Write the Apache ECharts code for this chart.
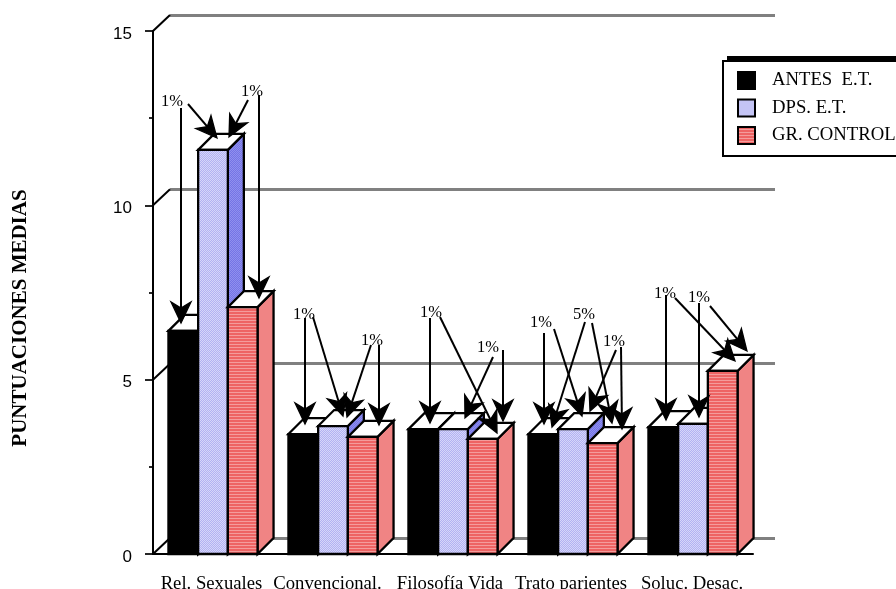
<!DOCTYPE html>
<html>
<head>
<meta charset="utf-8">
<style>html,body{margin:0;padding:0;background:#fff}#main{width:896px;height:589px}</style>
<script src="https://cdn.jsdelivr.net/npm/echarts@6/dist/echarts.min.js"></script>
</head>
<body>
<div id="main"></div>
<script>
var categories = ['Rel. Sexuales', 'Convencional.', 'Filosofía Vida', 'Trato parientes', 'Soluc. Desac.'];
var seriesNames = ['ANTES  E.T.', 'DPS. E.T.', 'GR. CONTROL'];
var antes = [6.4, 3.44, 3.58, 3.44, 3.64];
var dps = [11.59, 3.67, 3.58, 3.58, 3.73];
var control = [7.08, 3.36, 3.30, 3.18, 5.25];
var majorTicks = [0, 5, 10, 15];

var serif = '"Liberation Serif", serif';

// the labels sit a little left of their ticks in the original
var labelNudge = [3, 11, 6, 4, 2];

// significance notes: text with its centre, arrows as from/to in page pixels
var notes = [
  ['1%', 172, 102], ['1%', 252, 92], ['1%', 304, 315], ['1%', 372, 341],
  ['1%', 431, 313], ['1%', 488, 348], ['1%', 541, 323], ['5%', 584, 315],
  ['1%', 614, 342], ['1%', 665, 294], ['1%', 699, 298]
];
var arrows = [
  [181, 108, 181, 323], [188, 104, 217, 138], [248, 100, 229, 137], [259, 95, 259, 298],
  [305, 318, 305, 424], [313, 317, 343, 416], [371, 345, 347, 417], [379, 345, 379, 425],
  [430, 318, 430, 423], [440, 317, 497, 433], [493, 357, 465, 418], [503, 350, 503, 421],
  [544, 333, 544, 424], [554, 329, 582, 416], [585, 322, 552, 427], [592, 323, 612, 423],
  [616, 350, 590, 411], [621, 347, 622, 429],
  [666, 295, 666, 420], [675, 298, 735, 361], [699, 303, 699, 417], [710, 306, 747, 351]
];

function pattern(w, h, paint) {
  var c = document.createElement('canvas');
  c.width = w;
  c.height = h;
  paint(c.getContext('2d'));
  return { image: c, repeat: 'repeat' };
}
function checker(a, b) {
  return pattern(2, 2, function (g) {
    g.fillStyle = a; g.fillRect(0, 0, 2, 2);
    g.fillStyle = b; g.fillRect(0, 0, 1, 1); g.fillRect(1, 1, 1, 1);
  });
}
var blueFront = checker('#b2b2f2', '#d6d6f9');
var blueSide = checker('#7474e6', '#9090ee');
var redFront = pattern(1, 3, function (g) {
  g.fillStyle = '#ee6464'; g.fillRect(0, 0, 1, 3);
  g.fillStyle = '#f49c9c'; g.fillRect(0, 2, 1, 1);
});

var depthX = 16, depthY = 16, barRatio = 0.2475;

function bar3d(slot, front, side) {
  return function (params, api) {
    var top = api.coord([api.value(0), api.value(1)]);
    var base = api.coord([api.value(0), 0]);
    var w = api.size([1, 0])[0] * barRatio;
    var x0 = top[0] + (slot - 1.5) * w, x1 = x0 + w;
    var y = top[1], yb = base[1];
    var line = { stroke: '#000', lineWidth: 2.3, lineJoin: 'miter' };
    function face(points, fill) {
      return { type: 'polygon', shape: { points: points }, style: Object.assign({ fill: fill }, line) };
    }
    return {
      type: 'group',
      children: [
        face([[x1, y], [x1 + depthX, y - depthY], [x1 + depthX, yb - depthY], [x1, yb]], side),
        face([[x0, y], [x1, y], [x1 + depthX, y - depthY], [x0 + depthX, y - depthY]], '#fff'),
        face([[x0, y], [x1, y], [x1, yb], [x0, yb]], front)
      ]
    };
  };
}

function barSeries(name, values, slot, front, side) {
  return {
    name: name,
    type: 'custom',
    xAxisIndex: 0,
    yAxisIndex: 0,
    encode: { x: 0, y: 1 },
    itemStyle: { color: front },
    clip: false,
    renderItem: bar3d(slot, front, side),
    data: values.map(function (v, i) { return [i, v]; })
  };
}

function arrowShape(a) {
  var dx = a[2] - a[0], dy = a[3] - a[1];
  var len = Math.sqrt(dx * dx + dy * dy), ux = dx / len, uy = dy / len;
  var px = -uy, py = ux;
  var tip = [a[2], a[3]];
  function at(back, off) { return [tip[0] - ux * back + px * off, tip[1] - uy * back + py * off]; }
  return [
    { type: 'polyline', z: 50, shape: { points: [[a[0], a[1]], at(12, 0)] }, style: { stroke: '#000', lineWidth: 2, fill: null } },
    { type: 'polygon', z: 50, shape: { points: [tip, at(21, 10), at(15, 0), at(21, -10)] }, style: { fill: '#000', stroke: '#000', lineWidth: 1.3 } }
  ];
}

var graphics = [
  { type: 'rect', z: 40, shape: { x: 727, y: 56, width: 170, height: 4 }, style: { fill: '#000' } },
  { type: 'text', z: 40, x: 21, y: 318, rotation: Math.PI / 2,
    style: { text: 'PUNTUACIONES MEDIAS', font: 'bold 21px ' + serif, fill: '#000', align: 'center', verticalAlign: 'middle' } }
];
arrows.forEach(function (a) { graphics = graphics.concat(arrowShape(a)); });
notes.forEach(function (n) {
  graphics.push({ type: 'text', z: 51, x: n[1], y: n[2],
    style: { text: n[0], font: '16.5px ' + serif, fill: '#000', align: 'center', verticalAlign: 'middle' } });
});

var option = {
  backgroundColor: '#ffffff',
  animation: false,
  textStyle: { fontFamily: serif },
  grid: [
    { left: 153, top: 31, width: 600, height: 523, outerBoundsMode: 'none' },
    { left: 170, top: 15, width: 605, height: 523, outerBoundsMode: 'none' }
  ],
  legend: {
    orient: 'vertical',
    left: 723,
    top: 61,
    padding: [10, 10, 11, 14],
    itemWidth: 17,
    itemHeight: 17,
    itemGap: 8.5,
    borderColor: '#000',
    borderWidth: 2,
    borderRadius: 0,
    backgroundColor: '#fff',
    selectedMode: false,
    icon: 'rect',
    itemStyle: { borderColor: '#000', borderWidth: 2 },
    textStyle: { fontFamily: serif, fontSize: 18.7, color: '#000', padding: [0, 0, 0, 12] },
    data: seriesNames
  },
  xAxis: [
    {
      type: 'category', gridIndex: 0, position: 'bottom',
      data: categories.map(function (c, i) {
        return { value: c, textStyle: { padding: [0, labelNudge[i], 0, 0] } };
      }),
      axisLine: { lineStyle: { color: '#000', width: 2 } },
      axisTick: { length: 4, lineStyle: { color: '#000', width: 1.7 } },
      axisLabel: { interval: 0, margin: 21, fontFamily: serif, fontSize: 18.7, color: '#000' },
      splitLine: { show: false }
    },
    {
      type: 'category', gridIndex: 0, position: 'bottom', data: categories,
      axisLine: { show: false },
      axisTick: { alignWithLabel: true, length: 9, lineStyle: { color: '#000', width: 1.7 } },
      axisLabel: { show: false },
      splitLine: { show: false }
    },
    { type: 'category', gridIndex: 1, show: false, data: categories }
  ],
  yAxis: [
    {
      type: 'value', gridIndex: 0, min: 0, max: 15, interval: 5,
      axisLine: { show: true, lineStyle: { color: '#000', width: 2 } },
      axisTick: { show: true, length: 8, lineStyle: { color: '#000', width: 1.7 } },
      minorTick: { show: true, splitNumber: 2, length: 4, lineStyle: { color: '#000', width: 1.7 } },
      axisLabel: { margin: 21, fontFamily: '"Liberation Sans", sans-serif', fontSize: 17, color: '#000', verticalAlign: 'top', lineHeight: 6 },
      splitLine: { show: false }
    },
    {
      type: 'value', gridIndex: 1, min: 0, max: 15, interval: 5,
      axisLine: { show: false },
      axisTick: { show: false },
      axisLabel: { show: false },
      splitLine: { show: true, lineStyle: { color: '#808080', width: 3 } }
    }
  ],
  series: [
    {
      // floor/wall joins running back from the value axis
      type: 'custom',
      xAxisIndex: 0,
      yAxisIndex: 0,
      silent: true,
      clip: false,
      z: 1,
      encode: { y: 0 },
      renderItem: function (params, api) {
        var p = api.coord([0, api.value(0)]);
        var x = params.coordSys.x;
        return {
          type: 'line',
          shape: { x1: x, y1: p[1], x2: x + 17, y2: p[1] - 16 },
          style: { stroke: '#000', lineWidth: 2 }
        };
      },
      data: majorTicks.map(function (t) { return [t]; })
    },
    barSeries(seriesNames[0], antes, 0, '#000000', '#000000'),
    barSeries(seriesNames[1], dps, 1, blueFront, blueSide),
    barSeries(seriesNames[2], control, 2, redFront, '#f08484')
  ],
  graphic: graphics
};

var chart = echarts.init(document.getElementById('main'));
chart.setOption(option);
</script>
</body>
</html>
